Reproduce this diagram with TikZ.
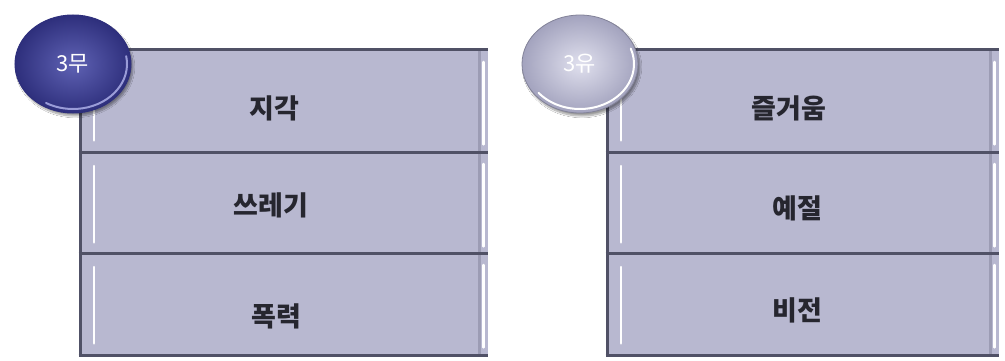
\documentclass[tikz,border=0pt]{standalone}
\usepackage{fontspec}
\newfontfamily\kr{Noto Sans CJK KR}
\usetikzlibrary{shapes.geometric,shadows.blur}
\definecolor{boxfill}{HTML}{B8B8D0}
\definecolor{boxedge}{HTML}{505166}
\definecolor{boxside}{HTML}{9C9CB4}
\definecolor{txt}{HTML}{26262F}
\definecolor{navyin}{HTML}{5F62B4}
\definecolor{navyout}{HTML}{2E2F7C}
\definecolor{navyrim}{HTML}{9A9CD8}
\definecolor{silverin}{HTML}{E0E0EE}
\definecolor{silverout}{HTML}{A3A3BE}
\begin{document}
\begin{tikzpicture}[x=1pt,y=-1pt,
  rowbox/.style={draw=none,fill=boxfill,inner sep=0pt,anchor=north west,minimum height=102pt},
  topedge/.style={draw=boxedge,line width=3pt},
  sideedge/.style={draw=boxedge,line width=3pt},
  shade/.style={draw=boxside,line width=3pt},
  hilite/.style={draw=white,line width=2.5pt,line cap=round},
  lbl/.style={font=\kr\bfseries\fontsize{27}{30}\selectfont,text=txt,inner sep=0pt},
  ball/.style={ellipse,minimum width=116pt,minimum height=98pt,inner sep=0pt,
     font=\kr\fontsize{22}{24}\selectfont,text=white,
     blur shadow={shadow xshift=2pt,shadow yshift=-3pt,shadow blur steps=10,shadow opacity=40}},
  navyball/.style={ball,inner color=navyin,outer color=navyout,draw=navyout,line width=1pt},
  silverball/.style={ball,inner color=silverin,outer color=silverout,draw=silverout!80!black,line width=0.8pt},
  rim/.style={line width=2pt,line cap=round}
]
\useasboundingbox (0,0) rectangle (1005,361);
\fill[white] (0,0) rectangle (1005,361);

% left panel boxes
\node[rowbox,minimum width=408pt] (L1) at (80,50) {};
\node[rowbox,minimum width=408pt] (L2) at (80,152) {};
\node[rowbox,minimum width=408pt] (L3) at (80,253) {};
% right panel boxes
\node[rowbox,minimum width=392pt] (R1) at (607,50) {};
\node[rowbox,minimum width=392pt] (R2) at (607,152) {};
\node[rowbox,minimum width=392pt] (R3) at (607,253) {};

\foreach \b in {L1,L2,L3,R1,R2,R3}{
  \draw[shade] ([xshift=-9pt]\b.north east) -- ([xshift=-9pt]\b.south east);
  \draw[hilite] ([xshift=-5pt,yshift=-12pt]\b.north east) -- ([xshift=-5pt,yshift=8pt]\b.south east);
  \draw[hilite] ([xshift=14pt,yshift=-14pt]\b.north west) -- ([xshift=14pt,yshift=12pt]\b.south west);
  \draw[sideedge] (\b.north west) -- (\b.south west);
  \draw[topedge] ([xshift=-1.5pt]\b.north west) -- (\b.north east);
}
\draw[topedge] ([xshift=-1.5pt]L3.south west) -- (L3.south east);
\draw[topedge] ([xshift=-1.5pt]R3.south west) -- (R3.south east);

% labels
\node[lbl] (t1) at (274,108) {지각};
\node[lbl] (t2) at (271,205) {쓰레기};
\node[lbl] (t3) at (276,316) {폭력};
\node[lbl] (u1) at (789,108) {즐거움};
\node[lbl] (u2) at (797,208) {예절};
\node[lbl] (u3) at (797,310) {비전};

% circles
\node[navyball] (c1) at (73,64) {3무};
\node[silverball] (c2) at (580,64) {3유};
\draw[rim,navyrim] (c1.center) ++(-10:54 and 45) arc[start angle=-10,end angle=120,x radius=54,y radius=45];
\draw[rim,white] (c2.center) ++(-20:54 and 45) arc[start angle=-20,end angle=140,x radius=54,y radius=45];
\end{tikzpicture}
\end{document}
